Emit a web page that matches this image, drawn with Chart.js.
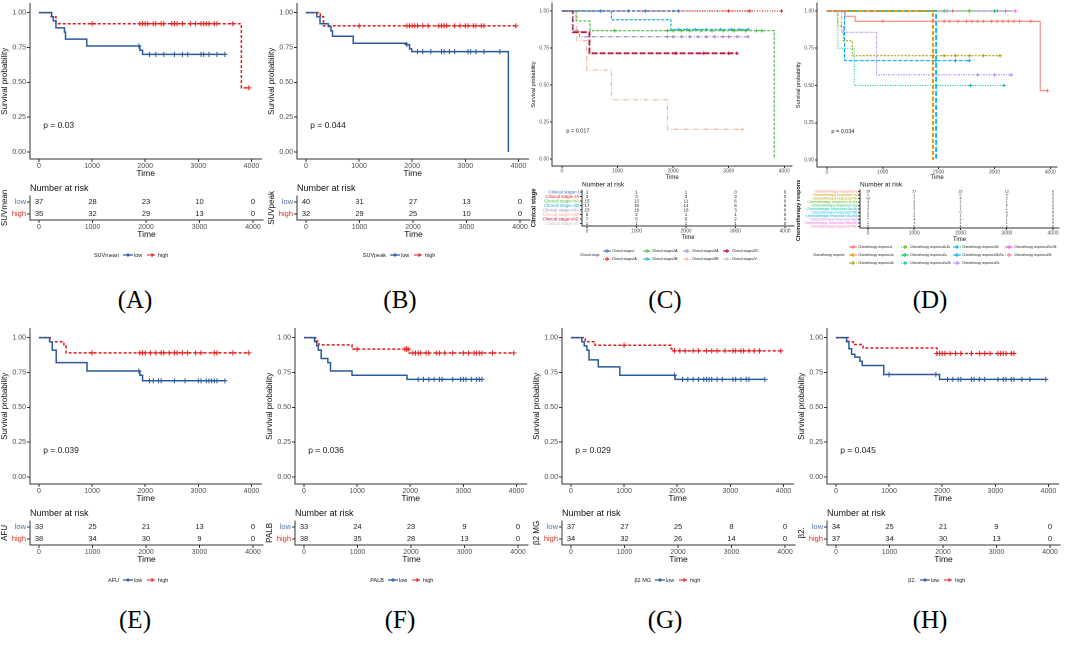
<!DOCTYPE html>
<html>
<head>
<meta charset="utf-8">
<script src="https://cdn.jsdelivr.net/npm/chart.js@4.4.1/dist/chart.umd.min.js"></script>
<style>
  body { margin: 0; background: #fff; width: 1065px; height: 645px; position: relative; overflow: hidden;
         font-family: Arial, "Liberation Sans", sans-serif; }
  .cv { position: absolute; }
  .tag { position: absolute; font-family: "Liberation Serif", "DejaVu Serif", serif; font-size: 25px;
         transform: translate(-50%, -50%); color: #000; }
  .lg { position: absolute; white-space: nowrap; display: flex; align-items: center; gap: 1px; color: #222; }
</style>
</head>
<body>
<script>
// ---- shared axes ----
const timeTicks = [0, 1000, 2000, 3000, 4000];
const survTicks = [0, 0.25, 0.5, 0.75, 1];
const groupRows = ["low", "high"];
const pCoord = [80, 0.19];

// ---- (A) SUVmean ----
const aLowTime = [0, 240, 270, 320, 480, 500, 900, 1900, 1950, 3500];
const aLowSurv = [1, 0.97, 0.94, 0.89, 0.86, 0.81, 0.76, 0.73, 0.70, 0.70];
const aLowCens = [1880, 2080, 2200, 2350, 2550, 2700, 2800, 3050, 3100, 3200, 3350, 3500];
const aHighTime = [0, 230, 320, 3810, 3950];
const aHighSurv = [1, 0.97, 0.92, 0.46, 0.46];
const aHighCens = [1000, 1900, 1950, 2000, 2050, 2150, 2200, 2300, 2350, 2500, 2550, 2600, 2700, 2850, 2950, 3050, 3100, 3150, 3200, 3300, 3350, 3650, 3950];
const aRiskLow = [37, 28, 23, 10, 0];
const aRiskHigh = [35, 32, 29, 13, 0];

// ---- (B) SUVpeak ----
const bLowTime = [0, 205, 265, 420, 470, 500, 890, 1885, 1950, 1990, 3810];
const bLowSurv = [1, 0.97, 0.92, 0.90, 0.87, 0.83, 0.78, 0.77, 0.74, 0.72, 0];
const bLowCens = [1900, 2100, 2200, 2350, 2550, 2600, 2700, 2800, 3050, 3100, 3200, 3350, 3650];
const bHighTime = [0, 270, 330, 3950];
const bHighSurv = [1, 0.97, 0.905, 0.905];
const bHighCens = [1000, 1900, 1950, 2000, 2050, 2100, 2200, 2300, 2500, 2550, 2600, 2650, 2800, 2900, 3000, 3050, 3150, 3200, 3300, 3350, 3950];
const bRiskLow = [40, 31, 27, 13, 0];
const bRiskHigh = [32, 29, 25, 10, 0];

// ---- (C) Clinical stage ----
const cLabels = ["Clinical stage=I", "Clinical stage=IA", "Clinical stage=IIA", "Clinical stage=IIB",
                 "Clinical stage=IIIA", "Clinical stage=IIIB", "Clinical stage=IIIC", "Clinical stage=IV"];
const cColors = ["#3d6fb6", "#e4211c", "#4cb848", "#22b3c8", "#a98bcb", "#f7b79a", "#c0143c", "#c4c4c4"];
const cDashes = [[3, 2], [1, 1.5], [3, 1.5], [3, 1.5], [4, 1.5, 1, 1.5], [5, 2, 1, 2], [6, 2], [4, 1, 1, 1]];
const cTimes = [[0, 2100], [0, 3950], [0, 255, 505, 3820], [0, 890, 1960, 3350],
                [0, 200, 315, 3350], [0, 270, 445, 890, 1900, 3250], [0, 195, 495, 3150], [0, 3350]];
const cSurv = [[1, 1], [1, 1], [1, 0.933, 0.867, 0], [1, 0.941, 0.875, 0.875],
               [1, 0.87, 0.826, 0.826], [1, 0.8, 0.6, 0.4, 0.2, 0.2], [1, 0.857, 0.714, 0.714], [1, 1]];
const cCens = [[700, 1200, 1500, 2100], [3000, 3380, 3950],
               [950, 1900, 2000, 2150, 2300, 2500, 2700, 2900, 3100, 3300, 3500, 3600],
               [2100, 2250, 2400, 2600, 2850, 3050, 3200, 3350],
               [1900, 2000, 2150, 2300, 2450, 2600, 2750, 2900, 3000, 3150, 3350],
               [3250], [2050, 2550, 3000, 3150], [2000, 3350]];
const cRisk = [[1, 1, 1, 0, 0], [3, 3, 3, 3, 0], [15, 13, 11, 6, 0], [17, 16, 14, 5, 0],
               [23, 19, 16, 3, 0], [5, 2, 1, 1, 0], [7, 5, 5, 2, 0], [1, 1, 1, 1, 0]];

// ---- (D) Chemotherapy response ----
const dLabels = ["Chemotherapy response=I", "Chemotherapy response=Ia", "Chemotherapy response=Ib",
                 "Chemotherapy response=Ib-IIa", "Chemotherapy response=IIa", "Chemotherapy response=IIa-IIb",
                 "Chemotherapy response=IIb", "Chemotherapy response=IIb-IIIa", "Chemotherapy response=IIIa",
                 "Chemotherapy response=IIIa-IIIb", "Chemotherapy response=IIIb"];
const dColors = ["#f8766d", "#db8e00", "#aea200", "#64b200", "#00bd5c", "#00c1a7",
                 "#00bade", "#00a6ff", "#b385ff", "#ef67eb", "#ff63b6"];
const dDashes = [[], [4, 2], [2, 1.5], [1, 1.5], [3, 1, 1, 1], [1, 1.5], [5, 2], [4, 1.5], [2, 1, 1, 1], [], [1, 1]];
const dWidths = [1, 1.8, 1.1, 1, 1, 1, 1.8, 1.1, 1, 1, 1];
const dTimes = [[0, 325, 505, 3820, 3950], [0, 1900], [0, 195, 295, 455, 3100], [0, 2550], [0, 3300],
                [0, 195, 490, 3170], [0, 1955], [0, 315, 2550], [0, 265, 890, 3300], [0, 3380], [0, 3050]];
const dSurv = [[1, 0.965, 0.931, 0.465, 0.465], [1, 0], [1, 0.9, 0.8, 0.7, 0.7], [1, 1], [1, 1],
               [1, 0.75, 0.5, 0.5], [1, 0], [1, 0.667, 0.667], [1, 0.857, 0.571, 0.571], [1, 1], [1, 1]];
const dCens = [[1000, 1900, 2100, 2200, 2350, 2500, 2600, 2700, 2800, 2950, 3050, 3150, 3250, 3350, 3450, 3650, 3950],
               [], [1900, 2100, 2300, 2550, 2800, 3100], [2550], [2100, 3000], [2570, 3170], [],
               [1950, 2300, 2550], [2700, 3000, 3300], [2150, 2550, 3200, 3380], [2250, 3050]];
const dRisk = [[29, 27, 23, 13, 0], [1, 1, 0, 0, 0], [10, 7, 4, 2, 0], [4, 3, 2, 1, 0], [3, 2, 1, 0, 0],
               [4, 2, 1, 1, 0], [1, 1, 0, 0, 0], [3, 2, 1, 0, 0], [7, 4, 3, 1, 0], [1, 1, 1, 1, 0], [5, 5, 4, 2, 0]];

// ---- (E) AFU ----
const eLowTime = [0, 200, 250, 325, 905, 1900, 1950, 3500];
const eLowSurv = [1, 0.97, 0.91, 0.82, 0.76, 0.73, 0.69, 0.69];
const eLowCens = [1880, 2080, 2150, 2250, 2300, 2550, 2750, 3000, 3050, 3150, 3200, 3250, 3300, 3350, 3500];
const eHighTime = [0, 210, 470, 510, 3950];
const eHighSurv = [1, 0.97, 0.94, 0.89, 0.89];
const eHighCens = [1000, 1900, 1950, 2000, 2100, 2200, 2300, 2350, 2450, 2550, 2600, 2700, 2800, 2950, 3050, 3300, 3350, 3650, 3950];
const eRiskLow = [33, 25, 21, 13, 0];
const eRiskHigh = [38, 34, 30, 9, 0];

// ---- (F) PALB ----
const fLowTime = [0, 200, 240, 270, 325, 450, 500, 905, 1940, 3350];
const fLowSurv = [1, 0.97, 0.94, 0.91, 0.85, 0.82, 0.76, 0.73, 0.70, 0.70];
const fLowCens = [2150, 2250, 2350, 2450, 2550, 2600, 2800, 2950, 3000, 3050, 3150, 3250, 3300, 3350];
const fHighTime = [0, 220, 280, 905, 1980, 3950];
const fHighSurv = [1, 0.975, 0.948, 0.917, 0.889, 0.889];
const fHighCens = [1000, 1900, 1930, 1960, 2050, 2100, 2150, 2200, 2300, 2350, 2500, 2550, 2650, 2800, 3000, 3100, 3200, 3250, 3300, 3350, 3550, 3950];
const fRiskLow = [33, 24, 23, 9, 0];
const fRiskHigh = [38, 35, 28, 13, 0];

// ---- (G) β2 MG ----
const gLowTime = [0, 205, 250, 300, 340, 515, 920, 1960, 3650];
const gLowSurv = [1, 0.97, 0.94, 0.91, 0.84, 0.79, 0.73, 0.70, 0.70];
const gLowCens = [1950, 2100, 2200, 2300, 2400, 2500, 2550, 2600, 2650, 2750, 2850, 3050, 3100, 3200, 3300, 3350, 3650];
const gHighTime = [0, 270, 455, 1885, 1930, 3950];
const gHighSurv = [1, 0.97, 0.945, 0.92, 0.905, 0.905];
const gHighCens = [1000, 1950, 2050, 2150, 2300, 2400, 2550, 2650, 2750, 2900, 3050, 3100, 3200, 3250, 3350, 3450, 3550, 3950];
const gRiskLow = [37, 27, 25, 8, 0];
const gRiskHigh = [34, 32, 26, 14, 0];

// ---- (H) β2. ----
const hLowTime = [0, 200, 245, 295, 355, 450, 495, 900, 1950, 3950];
const hLowSurv = [1, 0.97, 0.92, 0.88, 0.86, 0.83, 0.80, 0.735, 0.70, 0.70];
const hLowCens = [1000, 1880, 2100, 2200, 2300, 2350, 2550, 2600, 2700, 2800, 3050, 3150, 3200, 3300, 3350, 3500, 3650, 3950];
const hHighTime = [0, 230, 325, 510, 1900, 3350];
const hHighSurv = [1, 0.97, 0.95, 0.925, 0.886, 0.886];
const hHighCens = [1900, 1950, 2000, 2050, 2150, 2250, 2350, 2550, 2700, 2800, 2900, 3050, 3100, 3150, 3200, 3300, 3350];
const hRiskLow = [34, 25, 21, 9, 0];
const hRiskHigh = [37, 34, 30, 13, 0];

const lowColor = "#2b5a9c", highColor = "#e31a1c";
const lowLabelColor = "#4575b4", highLabelColor = "#d7301f";

Chart.defaults.font.family = 'Arial, "Liberation Sans", sans-serif';

// step function value at time t (for censor marks)
function stepValue(times, surv, t) {
  let v = surv[0];
  for (let i = 0; i < times.length; i++) if (times[i] <= t) v = surv[i];
  return v;
}

const pvalPlugin = {
  id: "pval",
  afterDatasetsDraw(chart, args, o) {
    if (!o.text) return;
    const ctx = chart.ctx;
    ctx.save();
    ctx.font = o.size + "px Arial";
    ctx.fillStyle = "#222";
    ctx.textBaseline = "middle";
    ctx.fillText(o.text, chart.scales.x.getPixelForValue(pCoord[0]), chart.scales.y.getPixelForValue(pCoord[1]));
    ctx.restore();
  }
};

const riskPlugin = {
  id: "riskText",
  afterDatasetsDraw(chart, args, o) {
    const ctx = chart.ctx;
    ctx.save();
    ctx.font = o.size + "px Arial";
    ctx.fillStyle = "#222";
    ctx.textAlign = "center";
    ctx.textBaseline = "middle";
    chart.data.datasets.forEach((ds, i) => {
      chart.getDatasetMeta(i).data.forEach((el, j) => ctx.fillText(String(ds.counts[j]), el.x, el.y));
    });
    ctx.restore();
  }
};

function makeCanvas(x, y, w, h) {
  const c = document.createElement("canvas");
  c.className = "cv";
  c.width = w; c.height = h;
  c.style.left = x + "px"; c.style.top = y + "px";
  document.body.appendChild(c);
  return c;
}

function xScale(g) {
  const k = (g.P4 - g.P0) / 4000;
  return {
    type: "linear",
    min: (g.L - g.P0) / k, max: (g.R - g.P0) / k,
    afterBuildTicks: s => { s.ticks = timeTicks.map(v => ({ value: v })); },
    ticks: { callback: v => String(v), font: { size: g.tick }, color: "#4d4d4d", padding: 0, maxRotation: 0, autoSkip: false },
    grid: { drawOnChartArea: false, tickLength: g.tl, color: "#333" },
    border: { color: "#333", width: 1 },
    title: { display: true, text: "Time", color: "#111", font: { size: g.axTitle }, padding: { top: 0, bottom: g.tpad } },
    afterFit: s => { s.height = g.h - g.B; s.paddingLeft = 0; s.paddingRight = 0; }
  };
}

function kmChart(ox, oy, g, curves, pText) {
  const cv = makeCanvas(ox, oy, g.w, g.h);
  const ky = g.Y0 - g.Y1;
  const datasets = [];
  curves.forEach(c => {
    datasets.push({
      data: c.time.map((t, i) => ({ x: t, y: c.surv[i] })),
      showLine: true, stepped: "before", borderColor: c.color, borderWidth: c.width || g.lw,
      borderDash: c.dash, pointRadius: 0, pointHoverRadius: 0
    });
    datasets.push({
      data: c.cens.map(t => ({ x: t, y: stepValue(c.time, c.surv, t) })),
      showLine: false, pointStyle: "cross", pointRadius: g.mark, borderColor: c.color, borderWidth: 1,
      pointHoverRadius: 0
    });
  });
  new Chart(cv, {
    type: "scatter",
    data: { datasets },
    plugins: [pvalPlugin],
    options: {
      responsive: false, animation: false, devicePixelRatio: 2, events: [],
      layout: { padding: { left: 0, right: g.w - g.R, top: g.T, bottom: 0 } },
      plugins: { legend: { display: false }, tooltip: { enabled: false }, pval: { text: pText, size: g.pSize } },
      scales: {
        x: xScale(g),
        y: {
          type: "linear",
          min: (g.Y0 - g.B) / ky, max: (g.Y0 - g.T) / ky,
          afterBuildTicks: s => { s.ticks = survTicks.map(v => ({ value: v })); },
          ticks: { callback: v => v.toFixed(2), font: { size: g.tick }, color: "#4d4d4d", padding: 1 },
          grid: { drawOnChartArea: false, tickLength: g.tl, color: "#333" },
          border: { color: "#333", width: 1 },
          title: { display: true, text: "Survival probability", color: "#111", font: { size: g.yTitle }, padding: { top: 0, bottom: 1 } },
          afterFit: s => { s.width = g.L; s.paddingTop = 0; s.paddingBottom = 0; }
        }
      }
    }
  });
}

function riskChart(ox, oy, g, rows, rowColors, counts, yTitle) {
  const cv = makeCanvas(ox, oy + g.top, g.w, g.h);
  const datasets = rows.map((r, i) => ({
    data: timeTicks.map(t => ({ x: t, y: r })), counts: counts[i], pointRadius: 0, pointHoverRadius: 0
  }));
  new Chart(cv, {
    type: "scatter",
    data: { datasets },
    plugins: [riskPlugin],
    options: {
      responsive: false, animation: false, devicePixelRatio: 2, events: [],
      layout: { padding: { left: 0, right: g.w - g.R, top: 0, bottom: 0 } },
      plugins: {
        legend: { display: false }, tooltip: { enabled: false },
        title: { display: true, text: "Number at risk", align: "start", fullSize: false, color: "#111",
                 font: { size: g.titleSize, weight: "normal" }, padding: { top: g.titleTop, bottom: g.titleBot } },
        riskText: { size: g.numSize }
      },
      scales: {
        x: xScale(g),
        y: {
          type: "category", labels: rows, offset: true,
          ticks: { color: c => rowColors[c.index], font: { size: g.rowSize }, padding: 1, autoSkip: false },
          grid: { drawOnChartArea: false, tickLength: g.tl, color: "#333" },
          border: { color: "#333", width: 1 },
          title: { display: true, text: yTitle, color: "#111", font: { size: g.yTitle, weight: g.yWeight || "normal" }, padding: { top: 0, bottom: 1 } },
          afterFit: s => { s.width = g.L; s.paddingTop = 0; s.paddingBottom = 0; }
        }
      }
    }
  });
}

function sampleSvg(color, dash, w, lw) {
  const m = w / 2;
  return '<svg width="' + w + '" height="6" style="display:block;flex:none"><line x1="0" y1="3" x2="' + w + '" y2="3" stroke="' + color +
    '" stroke-width="' + lw + '" stroke-dasharray="' + dash.join(" ") + '"/><path d="M' + (m - 2) + ' 3H' + (m + 2) + 'M' + m +
    ' 1V5" stroke="' + color + '" stroke-width="1"/></svg>';
}

function legend(ox, oy, L, title, labels, colors, dashes) {
  const t = document.createElement("div");
  t.className = "lg";
  t.textContent = title;
  t.style.fontSize = L.font + "px";
  t.style.left = (ox + L.titleX) + "px";
  t.style.top = (oy + L.titleY) + "px";
  t.style.transform = L.titleRight ? "translate(-100%, -50%)" : "translate(0, -50%)";
  document.body.appendChild(t);
  labels.forEach((lab, i) => {
    const col = Math.floor(i / L.rows), row = i % L.rows;
    const d = document.createElement("div");
    d.className = "lg";
    d.style.fontSize = L.font + "px";
    d.style.left = (ox + L.itemX + col * L.colW) + "px";
    d.style.top = (oy + L.itemY + row * L.rowH) + "px";
    d.style.transform = "translate(0, -50%)";
    d.innerHTML = sampleSvg(colors[i], dashes[i], L.sw, 1.2) + "<span>" + lab + "</span>";
    document.body.appendChild(d);
  });
}

function tag(x, y, text) {
  const d = document.createElement("div");
  d.className = "tag";
  d.textContent = text;
  d.style.left = x + "px"; d.style.top = y + "px";
  document.body.appendChild(d);
}

// ---- layout geometry (pixels inside each panel) ----
const geoTwoKm = { w: 265, h: 181, L: 30, R: 263, T: 3, B: 159, P0: 39, P4: 253, Y1: 12, Y0: 152,
                   tick: 7, axTitle: 8.5, yTitle: 8, tl: 3, lw: 1.5, mark: 2.6, pSize: 8.5, tpad: 2 };
const geoTwoRisk = { top: 180, w: 265, h: 61, L: 30, R: 263, P0: 39, P4: 253, B: 40, titleSize: 9, titleTop: 3, titleBot: 2,
                     numSize: 7.5, rowSize: 7.5, yTitle: 8, tick: 7, axTitle: 8.5, tl: 3, tpad: 1 };
const legTwo = { font: 5.5, titleX: 119, titleY: 255, titleRight: true, itemX: 123, itemY: 255, rows: 1, colW: 24, rowH: 0, sw: 10 };

const geoCKm = { w: 265, h: 182, L: 22, R: 264, T: 3, B: 166, P0: 32, P4: 256, Y1: 11, Y0: 159,
                 tick: 5, axTitle: 6, yTitle: 5.5, tl: 2, lw: 1.2, mark: 1.8, pSize: 5.5, tpad: 1 };
const geoCRisk = { top: 180, w: 265, h: 62, L: 52, R: 264, P0: 57, P4: 255, B: 46, titleSize: 6.5, titleTop: 1, titleBot: 1,
                   numSize: 4.5, rowSize: 4.5, yTitle: 6, yWeight: "bold", tick: 5, axTitle: 6, tl: 2, tpad: 1 };
const legC = { font: 3.3, titleX: 50, titleY: 255, itemX: 73, itemY: 251, rows: 2, colW: 40, rowH: 8, sw: 8 };

const geoDKm = { w: 265, h: 182, L: 22, R: 264, T: 3, B: 167, P0: 32, P4: 257, Y1: 11, Y0: 160,
                 tick: 5, axTitle: 6, yTitle: 5.5, tl: 2, lw: 1, mark: 1.8, pSize: 5.5, tpad: 1 };
const geoDRisk = { top: 180, w: 265, h: 64, L: 65, R: 264, P0: 73, P4: 258, B: 48, titleSize: 6.5, titleTop: 1, titleBot: 1,
                   numSize: 3.6, rowSize: 3.6, yTitle: 5.5, yWeight: "bold", tick: 5, axTitle: 6, tl: 2, tpad: 1 };
const legD = { font: 2.9, titleX: 18, titleY: 255, itemX: 54, itemY: 247, rows: 3, colW: 52, rowH: 8, sw: 8 };

// ---- two-group panels ----
const twoGroupPanels = [
  { ox: 0, oy: 0, name: "SUVmean", p: "p = 0.03", tag: "(A)",
    low: [aLowTime, aLowSurv, aLowCens], high: [aHighTime, aHighSurv, aHighCens], risk: [aRiskLow, aRiskHigh] },
  { ox: 267, oy: 0, name: "SUVpeak", p: "p = 0.044", tag: "(B)",
    low: [bLowTime, bLowSurv, bLowCens], high: [bHighTime, bHighSurv, bHighCens], risk: [bRiskLow, bRiskHigh] },
  { ox: 0, oy: 325, name: "AFU", p: "p = 0.039", tag: "(E)",
    low: [eLowTime, eLowSurv, eLowCens], high: [eHighTime, eHighSurv, eHighCens], risk: [eRiskLow, eRiskHigh] },
  { ox: 265, oy: 325, name: "PALB", p: "p = 0.036", tag: "(F)",
    low: [fLowTime, fLowSurv, fLowCens], high: [fHighTime, fHighSurv, fHighCens], risk: [fRiskLow, fRiskHigh] },
  { ox: 532, oy: 325, name: "β2 MG", p: "p = 0.029", tag: "(G)",
    low: [gLowTime, gLowSurv, gLowCens], high: [gHighTime, gHighSurv, gHighCens], risk: [gRiskLow, gRiskHigh] },
  { ox: 797, oy: 325, name: "β2.", p: "p = 0.045", tag: "(H)",
    low: [hLowTime, hLowSurv, hLowCens], high: [hHighTime, hHighSurv, hHighCens], risk: [hRiskLow, hRiskHigh] }
];

twoGroupPanels.forEach(P => {
  kmChart(P.ox, P.oy, geoTwoKm, [
    { time: P.low[0], surv: P.low[1], cens: P.low[2], color: lowColor, dash: [] },
    { time: P.high[0], surv: P.high[1], cens: P.high[2], color: highColor, dash: [3, 2] }
  ], P.p);
  riskChart(P.ox, P.oy, geoTwoRisk, groupRows, [lowLabelColor, highLabelColor], P.risk, P.name);
  legend(P.ox, P.oy, legTwo, P.name, groupRows, [lowColor, highColor], [[], [3, 2]]);
});

// ---- panel C ----
kmChart(530, 0, geoCKm, cLabels.map((l, i) => ({
  time: cTimes[i], surv: cSurv[i], cens: cCens[i], color: cColors[i], dash: cDashes[i], width: i === 6 ? 1.8 : 1.2
})), "p = 0.017");
riskChart(530, 0, geoCRisk, cLabels, cColors, cRisk, "Clinical stage");
legend(530, 0, legC, "Clinical stage", cLabels, cColors, cDashes);

// ---- panel D ----
kmChart(795, 0, geoDKm, dLabels.map((l, i) => ({
  time: dTimes[i], surv: dSurv[i], cens: dCens[i], color: dColors[i], dash: dDashes[i], width: dWidths[i]
})), "p = 0.034");
riskChart(795, 0, geoDRisk, dLabels, dColors, dRisk, "Chemotherapy response");
legend(795, 0, legD, "Chemotherapy response", dLabels, dColors, dDashes);

// ---- panel tags ----
tag(135, 300, "(A)"); tag(400, 300, "(B)"); tag(665, 300, "(C)"); tag(930, 300, "(D)");
twoGroupPanels.slice(2).forEach((P, i) => tag([135, 400, 665, 930][i], 620, P.tag));
</script>
</body>
</html>
